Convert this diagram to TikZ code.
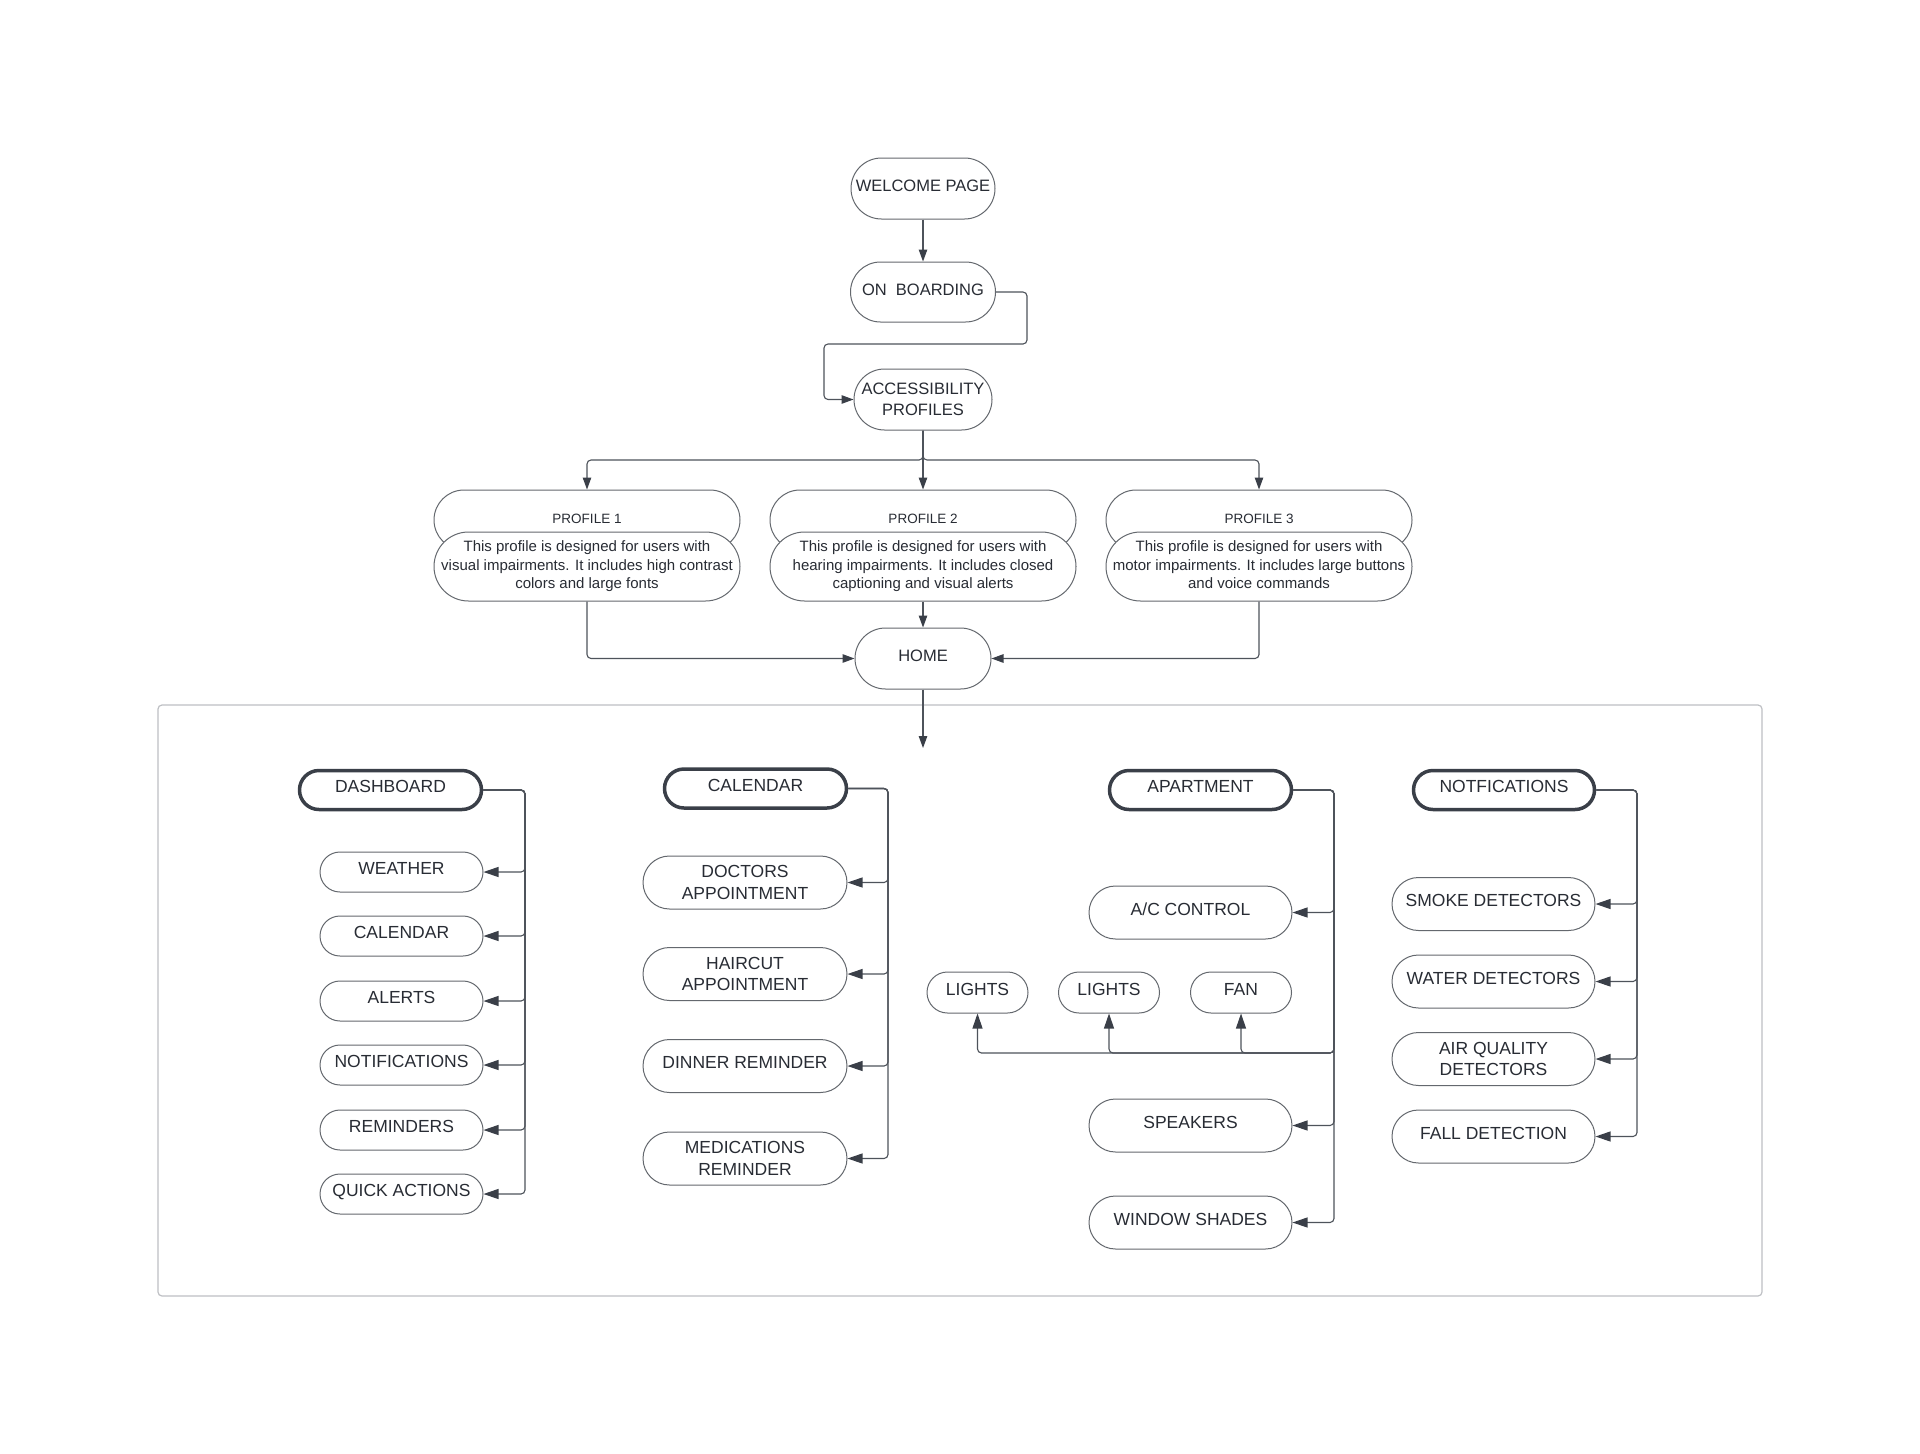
\documentclass[tikz,border=0pt]{standalone}
\usepackage{fontspec}
\setmainfont{Liberation Sans}
\usetikzlibrary{arrows.meta}
\definecolor{lc}{RGB}{58,63,72}
\definecolor{bc}{RGB}{100,104,110}
\definecolor{cc}{RGB}{78,83,91}
\definecolor{tc}{RGB}{40,44,52}
\definecolor{fr}{RGB}{190,192,196}
\newcommand\fmain{\fontsize{17.5}{21.5}\selectfont}
\newcommand\ftop{\fontsize{16.5}{21}\selectfont}
\newcommand\fdesc{\fontsize{15}{18.5}\selectfont}
\newcommand\ftitle{\fontsize{13.5}{16}\selectfont}
\begin{document}
\begin{tikzpicture}[x=1pt,y=-1pt,
  pill/.style 2 args={draw=bc, line width=1pt, fill=white, text=tc,
    minimum width=#1pt, minimum height=#2pt, rounded corners=#2*0.5pt-0.01pt,
    inner sep=0pt, align=center, font=\fmain, text depth=7pt},
  two/.style={text depth=0pt},
  topp/.style 2 args={pill={#1}{#2}, font=\ftop, text depth=5pt},
  head/.style 2 args={pill={#1}{#2}, draw=lc, line width=3.5pt},
  conn/.style={draw=cc, line width=1.1pt, rounded corners=4pt},
  arr/.style={conn, -{Triangle[length=12pt,width=8.5pt,color=lc]}},
  arrb/.style={conn, -{Triangle[length=15pt,width=10pt,color=lc]}}]
\fill[white] (0,0) rectangle (1920,1454);
\useasboundingbox (0,0) rectangle (1920,1454);

% container frame
\node[draw=fr, line width=1.2pt, rounded corners=4pt, minimum width=1604pt, minimum height=591pt, inner sep=0pt] (frame) at (960,1000.5) {};

% top flow
\node[topp={144}{61}] (welcome) at (923,188.5) {WELCOME PAGE};
\node[topp={145}{60}] (onb) at (923,292) {ON\ \ BOARDING};
\node[topp={138}{61}, two] (acc) at (923,399.5) {ACCESSIBILITY\\PROFILES};

\draw[arr] (welcome.south) -- (onb.north);
\draw[arr] (onb.east) -- ++(31,0) |- (824,344) |- (acc.west);

% profiles
\foreach \n/\x/\t/\d in {
  p1/587/PROFILE 1/{This profile is designed for users with\\visual impairments. It includes high contrast\\colors and large fonts},
  p2/923/PROFILE 2/{This profile is designed for users with\\hearing impairments. It includes closed\\captioning and visual alerts},
  p3/1259/PROFILE 3/{This profile is designed for users with\\motor impairments. It includes large buttons\\and voice commands}}{
  \node[pill={306}{60}, font=\ftitle, text depth=2pt] (\n t) at (\x,520) {\t};
  \node[pill={306}{69}, font=\fdesc, text depth=3.5pt] (\n b) at (\x,566.5) {\d};
}

\coordinate (split) at (923,460);
\draw[arr] (acc.south) -- (p2t.north);
\draw[arr] (acc.south) -- (split) -| (p1t.north);
\draw[arr] (acc.south) -- (split) -| (p3t.north);

\node[topp={136}{61}] (home) at (923,658.5) {HOME};
\draw[arr] (p2b.south) -- (home.north);
\draw[arr] (p1b.south) |- (home.west);
\draw[arr] (p3b.south) |- (home.east);

\coordinate (hend) at (923,748);
\draw[arr] (home.south) -- (hend);

% DASHBOARD group
\node[head={182}{39}] (dash) at (390.5,790) {DASHBOARD};
\node[pill={163}{40}] (weather) at (401.5,872) {WEATHER};
\node[pill={163}{40}] (dcal) at (401.5,936) {CALENDAR};
\node[pill={163}{40}] (alerts) at (401.5,1001) {ALERTS};
\node[pill={163}{40}] (dnot) at (401.5,1065) {NOTIFICATIONS};
\node[pill={163}{40}] (remind) at (401.5,1130) {REMINDERS};
\node[pill={163}{40}] (quick) at (401.5,1194) {QUICK ACTIONS};
\coordinate (dtr) at (525,790);
\foreach \c in {weather,dcal,alerts,dnot,remind,quick}
  \draw[arrb] (dash.east) -- (dtr) |- (\c.east);

% CALENDAR group
\node[head={182}{39}] (cal) at (755.5,788.5) {CALENDAR};
\node[pill={204}{53}, two] (doc) at (745,882.5) {DOCTORS\\APPOINTMENT};
\node[pill={204}{53}, two] (hair) at (745,974) {HAIRCUT\\APPOINTMENT};
\node[pill={204}{53}] (dinner) at (745,1066) {DINNER REMINDER};
\node[pill={204}{53}, two] (med) at (745,1158.5) {MEDICATIONS\\REMINDER};
\coordinate (ctr) at (888,788.5);
\foreach \c in {doc,hair,dinner,med}
  \draw[arrb] (cal.east) -- (ctr) |- (\c.east);

% APARTMENT group
\node[head={182}{39}] (apt) at (1200.5,790) {APARTMENT};
\node[pill={203}{53}] (ac) at (1190.5,912.5) {A/C CONTROL};
\node[pill={101}{41}] (l1) at (977.5,992.5) {LIGHTS};
\node[pill={101}{41}] (l2) at (1109,992.5) {LIGHTS};
\node[pill={101}{41}] (fan) at (1241,992.5) {FAN};
\node[pill={203}{53}] (spk) at (1190.5,1125.5) {SPEAKERS};
\node[pill={203}{53}] (shade) at (1190.5,1222.5) {WINDOW SHADES};
\coordinate (atr) at (1334,790);
\coordinate (lrow) at (1334,1053);
\foreach \c in {ac,spk,shade}
  \draw[arrb] (apt.east) -- (atr) |- (\c.east);
\foreach \c in {l1,l2,fan}
  \draw[arrb] (apt.east) -- (atr) -- (lrow) -| (\c.south);

% NOTIFICATIONS group
\node[head={181}{39}] (notf) at (1504,790) {NOTFICATIONS};
\node[pill={203}{53}] (smoke) at (1493.5,904) {SMOKE DETECTORS};
\node[pill={203}{53}] (water) at (1493.5,981.5) {WATER DETECTORS};
\node[pill={203}{53}, two] (air) at (1493.5,1059) {AIR QUALITY\\DETECTORS};
\node[pill={203}{53}] (fall) at (1493.5,1136.5) {FALL DETECTION};
\coordinate (ntr) at (1637,790);
\foreach \c in {smoke,water,air,fall}
  \draw[arrb] (notf.east) -- (ntr) |- (\c.east);
\end{tikzpicture}
\end{document}
